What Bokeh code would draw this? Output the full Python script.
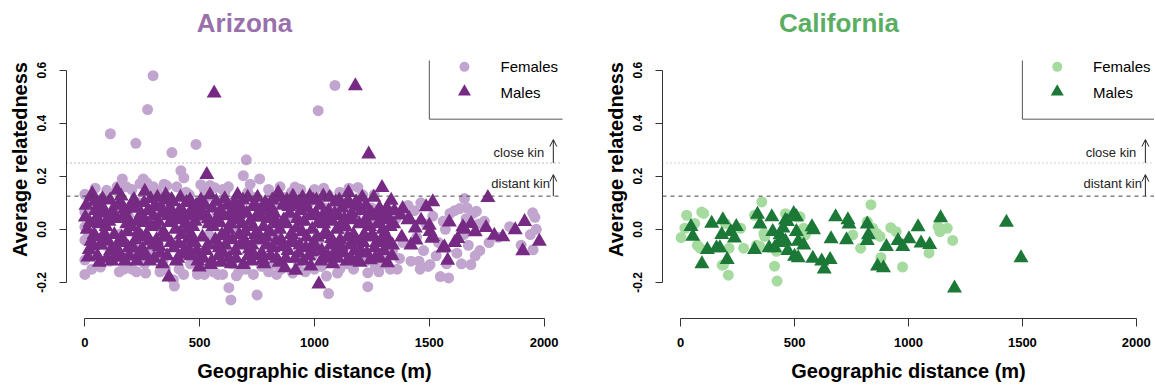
from bokeh.plotting import figure
from bokeh.layouts import row
from bokeh.models import Range1d, FixedTicker, NumeralTickFormatter, Span, Label, Arrow, OpenHead
from bokeh.embed import file_html
from bokeh.resources import INLINE

# ---------------- data ----------------
X_TICKS = [0, 500, 1000, 1500, 2000]
Y_TICKS = [-0.2, 0.0, 0.2, 0.4, 0.6]
CLOSE_KIN = 0.25
DISTANT_KIN = 0.125

AZ_F_X = [0, 0, 0, 0, 0, 0, 12, 20, 35, 50, 68, 80, 90, 95,
          111, 110, 123, 130, 150, 163, 170, 181, 190, 195,
          222, 225, 240, 254, 273, 297, 260, 280, 298, 290, 210, 235,
          327, 356, 379, 385, 390, 310, 340, 365, 395, 330,
          418, 431, 484, 410, 440, 460, 475, 490, 450, 470,
          505, 565, 510, 530, 550, 580, 590, 540, 520, 575,
          600, 627, 636, 690, 610, 640, 655, 670, 680, 650, 620,
          703, 761, 734, 750, 710, 720, 740, 770, 785, 760,
          810, 820, 840, 855, 870, 880, 890, 830,
          915, 930, 945, 960, 975, 990, 950,
          1016, 1089, 1052, 1061, 1060, 1010, 1030, 1045, 1075, 1090, 1020,
          1189, 1110, 1125, 1140, 1155, 1170, 1180, 1195, 1130,
          1232, 1232, 1210, 1225, 1250, 1265, 1280, 1295, 1240,
          1310, 1325, 1340, 1355, 1370, 1385, 1395, 1360,
          1407, 1420, 1435, 1455, 1463, 1475, 1485, 1495, 1445, 1460,
          1503, 1515, 1530, 1548, 1560, 1575, 1584, 1590, 1540, 1570,
          1610, 1620, 1632, 1640, 1653, 1660, 1670, 1681, 1690, 1705, 1650, 1665, 1700,
          1715, 1720, 1740, 1760, 1800, 1850, 1900, 1950, 1966, 1952, 1960, 1940,
          45, 140, 205, 270, 315, 345, 400, 455, 520, 545, 600, 625, 720, 800,
          850, 900, 940, 1000, 1040, 1110, 1150, 1210, 1260,
          30, 150, 205, 265, 350, 430, 520, 560, 660, 700, 800, 835, 905, 1000,
          1100, 1170, 1280, 1330]
AZ_F_Y = [0.132, 0.065, 0.009, -0.041, -0.116, -0.170, -0.030, 0.100, -0.090, 0.030, -0.142, 0.120, -0.060, 0.147,
          0.360, -0.120, -0.110, 0.080, -0.020, 0.190, -0.150, 0.160, 0.050, -0.100,
          0.324, -0.160, 0.172, 0.190, 0.451, 0.579, -0.130, 0.020, 0.160, -0.080, -0.060, 0.100,
          -0.160, 0.165, 0.289, -0.190, -0.214, 0.070, -0.120, 0.120, -0.050, 0.000,
          0.221, 0.194, 0.320, -0.150, 0.140, -0.130, 0.090, -0.170, 0.050, -0.060,
          0.168, 0.157, -0.160, 0.120, -0.140, -0.170, 0.100, -0.020, 0.040, 0.060,
          -0.170, -0.220, -0.266, 0.202, 0.140, -0.130, 0.110, -0.160, 0.080, 0.000, -0.080,
          0.262, 0.190, -0.170, -0.247, 0.140, -0.100, 0.120, -0.140, 0.090, -0.040,
          0.130, -0.130, 0.100, -0.150, 0.120, -0.080, 0.050, -0.020,
          0.159, -0.130, 0.120, -0.160, 0.100, -0.100, 0.030,
          0.447, 0.542, -0.176, -0.242, 0.130, 0.120, -0.140, 0.080, -0.120, 0.100, -0.040,
          0.158, -0.150, 0.110, -0.130, 0.090, -0.110, 0.060, -0.090, 0.000,
          -0.216, -0.164, 0.100, -0.120, 0.080, -0.140, 0.050, -0.100, 0.020,
          -0.130, 0.070, -0.080, 0.040, -0.110, -0.050, 0.060, -0.150,
          0.090, -0.120, 0.070, -0.120, 0.100, -0.080, 0.020, -0.140, -0.030, -0.150,
          -0.133, 0.050, -0.100, -0.178, 0.030, -0.130, -0.183, 0.060, -0.050, 0.000,
          0.070, -0.090, 0.078, -0.130, 0.116, 0.040, -0.060, -0.133, 0.060, 0.068, -0.020, 0.080, -0.100,
          0.020, -0.080, 0.030, -0.050, -0.030, 0.010, -0.060, 0.062, 0.000, -0.077, 0.045, -0.020,
          0.155, 0.160, 0.150, 0.175, 0.145, 0.170, 0.160, 0.130, 0.150, 0.165, 0.150, 0.160, 0.170, 0.150,
          0.160, 0.140, 0.150, 0.150, 0.155, 0.140, 0.155, 0.130, 0.130,
          -0.150, -0.160, -0.150, -0.165, -0.150, -0.170, -0.170, -0.160, -0.175, -0.150, -0.160, -0.170, -0.165, -0.150,
          -0.165, -0.150, -0.160, -0.150]

AZ_M_X = [2, 19, 27, 27, 32, 10, 40, 45,
          55, 60, 73, 80, 88, 95, 70, 92,
          105, 112, 120, 128, 140, 141, 145, 135, 148,
          155, 160, 168, 175, 182, 190, 197, 185,
          208, 214, 220, 228, 235, 240, 245, 232,
          255, 261, 261, 268, 275, 283, 290, 296,
          305, 312, 320, 328, 335, 342, 348, 338,
          355, 363, 366, 372, 378, 382, 388, 395,
          405, 412, 420, 428, 435, 442, 448, 438,
          455, 462, 470, 478, 485, 492, 498, 480,
          505, 512, 520, 528, 531, 540, 547, 535,
          555, 563, 568, 575, 582, 590, 597, 585,
          605, 612, 620, 628, 635, 642, 648, 625,
          655, 660, 665, 672, 680, 690, 695, 685,
          705, 712, 720, 728, 735, 742, 748, 725,
          755, 762, 770, 778, 785, 792, 798, 780,
          805, 812, 820, 828, 835, 842, 848, 825,
          855, 862, 871, 878, 885, 892, 898, 880,
          906, 912, 918, 925, 932, 940, 946, 930,
          955, 962, 970, 979, 984, 990, 996, 975,
          1005, 1012, 1019, 1025, 1032, 1040, 1046, 1035,
          1055, 1062, 1070, 1078, 1085, 1092, 1098, 1080,
          1105, 1112, 1120, 1128, 1135, 1142, 1148, 1130,
          1155, 1162, 1170, 1178, 1181, 1187, 1195, 1175,
          1205, 1212, 1220, 1228, 1236, 1240, 1246, 1225,
          1255, 1262, 1266, 1275, 1283, 1290, 1294, 1298,
          1305, 1310, 1318, 1325, 1334, 1340, 1345,
          1374, 1380, 1384, 1407, 1413, 1439, 1442, 1464, 1486, 1500,
          1515, 1515, 1503, 1511, 1560, 1566, 1580, 1587, 1624, 1646,
          1653, 1682, 1747, 1755, 1783, 1820, 1874, 1915, 1907, 1979,
          1420, 1610, 1700,
          5, 14, 22, 36, 44, 48,
          52, 63, 77, 84, 97, 66,
          102, 110, 118, 125, 133, 146,
          152, 158, 165, 172, 188, 194,
          203, 211, 218, 226, 238, 248,
          252, 258, 265, 279, 287, 298,
          302, 308, 316, 324, 331, 346,
          352, 358, 369, 375, 384, 398,
          402, 409, 416, 424, 431, 446,
          452, 458, 466, 474, 488, 496,
          502, 509, 516, 524, 538, 545,
          552, 558, 572, 579, 588, 594,
          602, 609, 616, 632, 638, 646,
          652, 658, 668, 676, 688, 698,
          702, 709, 716, 732, 739, 745,
          752, 758, 766, 774, 789, 796,
          802, 809, 816, 832, 839, 846,
          852, 858, 866, 875, 888, 895,
          902, 909, 915, 922, 936, 948,
          952, 958, 966, 982, 988, 994,
          1002, 1008, 1016, 1028, 1038, 1048,
          1052, 1058, 1066, 1074, 1088, 1095,
          1102, 1108, 1116, 1124, 1138, 1145,
          1152, 1158, 1166, 1184, 1191, 1198,
          1202, 1208, 1216, 1232, 1243, 1249,
          1252, 1258, 1270, 1279, 1286, 1296,
          1302, 1315, 1322, 1330, 1338, 1348]
AZ_M_Y = [0.046, -0.077, 0.122, -0.046, 0.134, 0.000, -0.020, 0.070,
          -0.100, 0.020, 0.090, -0.040, 0.060, -0.110, -0.060, 0.010,
          0.030, -0.080, 0.070, -0.020, 0.147, -0.098, -0.106, 0.040, -0.050,
          0.100, -0.030, 0.050, -0.120, 0.020, -0.070, 0.080, -0.010,
          0.103, 0.112, -0.040, 0.030, -0.100, -0.085, 0.060, -0.010,
          0.040, 0.143, -0.096, -0.020, 0.070, -0.120, 0.010, -0.060,
          0.090, -0.040, 0.030, -0.090, 0.060, -0.010, 0.110, -0.130,
          -0.030, 0.050, -0.180, 0.080, 0.112, 0.103, -0.070, 0.000,
          -0.110, 0.070, -0.020, 0.040, -0.080, 0.100, -0.040, 0.020,
          0.060, -0.100, 0.010, -0.050, 0.090, -0.120, -0.143, 0.030,
          0.110, -0.030, 0.050, -0.080, 0.206, 0.020, -0.133, -0.060,
          0.080, 0.513, -0.040, 0.040, -0.100, 0.070, -0.020, -0.070,
          0.050, -0.060, 0.090, -0.110, 0.020, -0.040, 0.070, 0.000,
          -0.080, 0.040, 0.130, -0.020, 0.080, -0.133, -0.050, 0.020,
          0.060, -0.100, 0.030, -0.060, 0.090, -0.020, 0.050, -0.120,
          -0.040, 0.070, -0.090, 0.010, 0.100, -0.060, 0.040, -0.130,
          -0.010, 0.080, -0.070, 0.030, -0.110, 0.138, 0.000, 0.060,
          -0.040, 0.090, -0.145, 0.020, -0.080, 0.060, -0.020, 0.110,
          0.125, -0.050, -0.155, 0.040, -0.090, 0.070, -0.010, 0.100,
          0.030, -0.070, 0.080, 0.124, -0.139, 0.000, -0.050, -0.100,
          0.060, -0.030, -0.207, 0.090, -0.080, 0.020, -0.110, 0.050,
          -0.020, 0.070, -0.060, 0.030, -0.100, 0.103, 0.000, -0.130,
          0.050, -0.040, 0.080, -0.090, 0.010, -0.120, 0.138, 0.040,
          -0.060, 0.060, -0.020, 0.540, 0.103, -0.114, 0.020, -0.080,
          0.070, -0.050, 0.030, -0.090, 0.283, 0.010, -0.030, 0.090,
          0.050, -0.070, -0.106, 0.020, 0.080, -0.040, 0.157, 0.000,
          0.060, -0.020, -0.127, 0.040, 0.109, -0.060, 0.020,
          0.053, -0.030, 0.078, 0.035, 0.040, 0.004, -0.041, 0.034, 0.084, 0.015,
          0.103, -0.029, -0.009, -0.034, -0.071, -0.067, -0.117, 0.027, -0.035, 0.009,
          0.000, 0.021, 0.006, 0.119, -0.023, -0.029, -0.002, 0.029, -0.081, -0.046,
          -0.060, -0.050, -0.010,
          0.090, -0.105, 0.025, -0.062, 0.105, -0.030,
          0.045, -0.125, 0.115, -0.015, 0.035, 0.075,
          -0.045, 0.110, -0.120, 0.055, -0.070, 0.090,
          -0.090, 0.125, -0.050, 0.075, 0.040, -0.100,
          0.010, -0.070, 0.080, -0.120, 0.045, -0.030,
          -0.075, 0.100, 0.025, -0.045, 0.115, 0.050,
          -0.110, 0.015, 0.120, -0.065, 0.085, -0.030,
          0.130, -0.100, 0.025, -0.050, 0.055, -0.120,
          0.035, -0.055, 0.120, -0.095, 0.060, 0.000,
          -0.075, 0.110, -0.025, 0.050, -0.080, 0.075,
          -0.100, 0.065, -0.110, 0.090, 0.040, 0.130,
          -0.120, 0.010, 0.105, -0.055, 0.025, -0.125,
          -0.090, 0.115, -0.025, 0.060, -0.130, 0.035,
          0.100, -0.110, 0.055, -0.060, 0.110, -0.010,
          -0.050, 0.120, -0.075, 0.010, -0.100, 0.085,
          0.120, -0.020, 0.045, -0.115, -0.030, 0.085,
          0.050, -0.100, 0.110, -0.045, 0.020, -0.125,
          0.120, -0.065, 0.035, -0.110, 0.085, -0.050,
          -0.020, 0.090, -0.110, 0.005, -0.060, 0.120,
          -0.120, 0.100, -0.030, 0.050, -0.085, 0.110,
          -0.065, 0.110, 0.025, -0.120, 0.125, -0.010,
          0.045, -0.100, 0.120, -0.035, 0.060, -0.075,
          -0.110, 0.110, -0.065, 0.025, 0.095, -0.030,
          0.100, -0.110, 0.035, -0.045, 0.085, -0.125,
          -0.080, 0.120, -0.020, 0.050, -0.115, 0.060,
          -0.020, 0.120, -0.050, 0.060, -0.110, 0.035,
          -0.080, 0.080, -0.050, 0.010, -0.100, 0.070]

CA_F_X = [26, 2, 18, 61, 101, 85, 196, 188, 209, 212,
          263, 276, 356, 324, 369, 348, 412, 423, 420, 468,
          524, 539, 547, 755, 790, 835, 819, 843, 875, 879,
          922, 946, 974, 1090, 1130, 1138, 1170, 1194, 92, 73,
          182, 333, 365, 460, 511, 861]
CA_F_Y = [0.053, -0.031, 0.004, 0.022, 0.060, -0.071, 0.022, -0.133, -0.173, -0.071,
          0.004, -0.071, 0.103, 0.053, -0.027, -0.065, -0.139, -0.195, -0.083, 0.053,
          0.047, 0.004, -0.021, -0.021, -0.071, 0.093, 0.029, 0.004, -0.027, -0.106,
          0.006, -0.009, -0.142, -0.089, 0.010, -0.009, 0.004, -0.042, 0.065, -0.060,
          -0.135, -0.060, -0.016, 0.059, 0.046, -0.016]

CA_M_X = [45, 53, 93, 136, 117, 157, 185, 180, 204, 220,
          244, 236, 172, 324, 337, 348, 400, 404, 388, 412,
          436, 449, 460, 468, 508, 508, 516, 500, 516, 583,
          580, 619, 630, 656, 660, 680, 728, 734, 739, 819,
          824, 819, 864, 890, 903, 954, 975, 1002, 1042, 1055,
          1093, 1141, 1202, 1430, 1494, 496, 460, 430, 470, 540, 576]
CA_M_Y = [0.010, -0.027, -0.130, 0.022, -0.077, -0.070, 0.035, -0.020, -0.114, -0.009,
          0.010, -0.033, -0.070, -0.077, 0.056, 0.019, 0.047, -0.009, -0.070, -0.070,
          -0.021, 0.004, -0.046, 0.029, 0.047, -0.009, -0.046, -0.102, -0.108, -0.002,
          -0.110, -0.120, -0.150, -0.114, -0.036, 0.047, -0.040, 0.035, 0.019, 0.019,
          -0.021, -0.043, -0.139, -0.145, -0.065, -0.043, -0.065, -0.036, 0.009, -0.052,
          -0.058, 0.043, -0.222, 0.026, -0.108, 0.059, 0.034, -0.050, -0.080, -0.060, 0.009]

FONT = "Liberation Sans"
AXIS_COL = "#333333"

# plot-region limits (R style: 4% padding around xlim 0..2000, ylim -0.3..0.6)
X_LO, X_HI = -80, 2080
Y_LO, Y_HI = -0.336, 0.636
HEIGHT = 385
BORDER_BOTTOM = 67
PLOT_PX = 258                       # height of the plot region in pixels
PX_PER_UNIT = PLOT_PX / (Y_HI - Y_LO)
TOP_PX = 60                         # space above plot region (title area)
Y_TOP = Y_HI + TOP_PX / PX_PER_UNIT
TITLE_X = 695


def make_panel(title, title_col, fx, fy, mx, my, fcol, mcol, width, border_right, dot_col):
    p = figure(width=width, height=HEIGHT,
               x_range=Range1d(X_LO, X_HI), y_range=Range1d(Y_LO, Y_TOP),
               output_backend="svg", toolbar_location=None,
               min_border_left=66, min_border_right=border_right,
               min_border_top=0, min_border_bottom=BORDER_BOTTOM)
    p.outline_line_color = None
    p.grid.visible = False
    p.background_fill_color = "white"
    p.border_fill_color = "white"

    for ax in (p.xaxis[0], p.yaxis[0]):
        ax.axis_line_color = AXIS_COL
        ax.major_tick_line_color = AXIS_COL
        ax.minor_tick_line_color = None
        ax.major_tick_in = 0
        ax.major_label_text_font = FONT
        ax.major_label_text_font_style = "bold"
        ax.major_label_text_color = "black"
        ax.axis_label_text_font = FONT
        ax.axis_label_text_font_style = "bold"
        ax.axis_label_text_font_size = "20px"
        ax.axis_label_text_color = "black"

    xa = p.xaxis[0]
    xa.ticker = FixedTicker(ticks=X_TICKS)
    xa.bounds = (X_TICKS[0], X_TICKS[-1])
    xa.formatter = NumeralTickFormatter(format="0")
    xa.major_tick_out = 8
    xa.major_label_standoff = 11
    xa.major_label_text_font_size = "13px"
    xa.axis_label = "Geographic distance (m)"
    xa.axis_label_standoff = 10

    ya = p.yaxis[0]
    ya.ticker = FixedTicker(ticks=Y_TICKS)
    ya.bounds = (Y_TICKS[0], Y_TICKS[-1])
    ya.formatter = NumeralTickFormatter(format="0.0")
    ya.major_tick_out = 7
    ya.major_label_standoff = 13
    ya.major_label_text_font_size = "12px"
    ya.major_label_orientation = "vertical"
    ya.axis_label = "Average relatedness"
    ya.axis_label_standoff = 4

    # reference lines
    p.add_layout(Span(location=CLOSE_KIN, dimension="width", line_color=dot_col,
                      line_dash="1 3", line_width=1))
    p.add_layout(Span(location=DISTANT_KIN, dimension="width", line_color="#444444",
                      line_dash="4 4", line_width=1))

    # points
    p.scatter(fx, fy, marker="circle", size=11, fill_color=fcol, line_color=None)
    p.scatter(mx, my, marker="triangle", size=15, fill_color=mcol, line_color=None)

    # kin annotations
    p.add_layout(Label(x=2000, y=0.29, text="close kin", text_font=FONT, text_font_size="13px",
                       text_color="#222222", text_align="right", text_baseline="middle"))
    p.add_layout(Label(x=2025, y=0.172, text="distant kin", text_font=FONT, text_font_size="13px",
                       text_color="#222222", text_align="right", text_baseline="middle"))
    for y0, y1 in ((CLOSE_KIN, 0.338), (DISTANT_KIN, 0.206)):
        p.add_layout(Arrow(end=OpenHead(size=7, line_width=1, line_color="#222222"),
                           x_start=2040, y_start=y0, x_end=2040, y_end=y1,
                           line_color="#222222", line_width=1))

    # legend (box partly clipped at the plot region, as in the original)
    p.line([1500, 1500, X_HI + 100], [Y_HI, 0.415, 0.415], line_color="#555555", line_width=1)
    p.scatter([1653], [0.612], marker="circle", size=10, fill_color=fcol, line_color=None)
    p.scatter([1653], [0.518], marker="triangle", size=13, fill_color=mcol, line_color=None)
    p.add_layout(Label(x=1810, y=0.612, text="Females", text_font=FONT, text_font_size="15px",
                       text_color="black", text_align="left", text_baseline="middle"))
    p.add_layout(Label(x=1810, y=0.514, text="Males", text_font=FONT, text_font_size="15px",
                       text_color="black", text_align="left", text_baseline="middle"))

    # panel title, 38 px above the plot region
    p.add_layout(Label(x=TITLE_X, y=Y_HI + 38 / PX_PER_UNIT, text=title, text_font=FONT,
                       text_font_size="26px", text_font_style="bold", text_color=title_col,
                       text_align="center", text_baseline="middle"))
    return p


p1 = make_panel("Arizona", "#9970ab", AZ_F_X, AZ_F_Y, AZ_M_X, AZ_M_Y,
                "#c2a5cf", "#762a83", 596, 34, "#777777")
p2 = make_panel("California", "#5aae61", CA_F_X, CA_F_Y, CA_M_X, CA_M_Y,
                "#a6dba0", "#1b7837", 558, 0, "#aaaaaa")

layout = row(p1, p2)
open("out.html", "w").write(file_html(layout, INLINE))
